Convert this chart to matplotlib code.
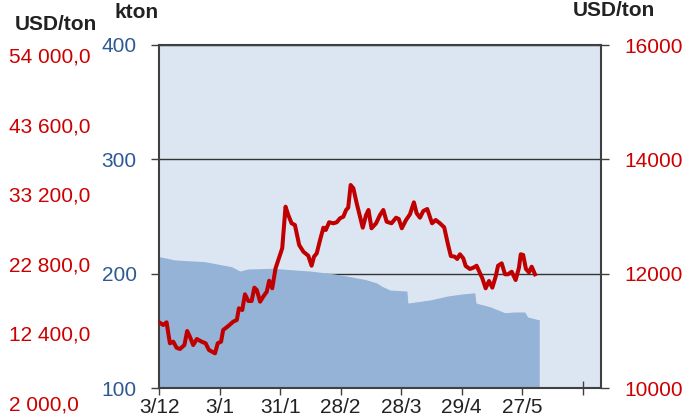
import matplotlib
matplotlib.use('Agg')
import matplotlib.pyplot as plt
import numpy as np

plt.rcParams['font.family'] = ['Liberation Sans', 'DejaVu Sans']
plt.rcParams['font.size'] = 15

# Stock (kton), area, x = trading-day index
stock_x = [0, 5.3, 15.1, 24.0, 26.7, 29.4, 37.5, 45.0, 49.9, 58.1, 63.1, 68.0,
           72.0, 73.6, 76.3, 81.9, 82.2, 89.5, 95.4, 100.0, 104.3, 104.7, 109.3,
           114.2, 117.5, 120.8, 121.8, 125.1, 125.6]
stock_kton = [214.9, 212.0, 210.5, 206.1, 202.3, 204.1, 204.7, 203.2, 202.3, 199.7,
              197.4, 195.0, 191.8, 189.0, 185.7, 184.8, 174.3, 177.0, 180.5, 182.2,
              183.3, 174.3, 171.1, 165.9, 166.5, 166.5, 162.1, 159.9, 159.9]

# Price (USD/ton), line
price_x = [0, 1.4, 2.5, 3.6, 4.7, 5.8, 6.9, 8.4, 9.3, 10.2, 11.3, 12.5, 14.1, 15.4,
           16.5, 18.5, 19.4, 20.5, 21.2, 22.9, 24.5, 25.7, 26.4, 27.5, 28.4, 29.5,
           30.6, 31.5, 32.3, 33.4, 34.4, 35.6, 36.4, 37.4, 38.5, 39.6, 40.7, 41.8,
           42.7, 43.8, 44.9, 46.3, 47.7, 49.3, 50.4, 51.2, 52.1, 53.2, 54.3, 55.1,
           56.2, 57.6, 58.7, 59.8, 60.9, 61.8, 62.5, 63.3, 64.2, 65.3, 66.4, 67.3,
           68.4, 69.2, 70.2, 71.7, 73.0, 74.1, 75.2, 76.8, 78.3, 79.2, 80.2, 81.6,
           82.9, 84.2, 85.1, 86.2, 87.3, 88.6, 90.2, 91.4, 92.8, 94.2, 95.5, 96.4,
           97.7, 98.5, 99.4, 100.5, 101.3, 102.7, 103.8, 104.9, 105.7, 106.8, 107.9,
           109.0, 110.1, 111.2, 112.0, 113.2, 114.3, 115.3, 116.5, 117.8, 118.9,
           119.5, 120.3, 121.2, 122.2, 123.1, 124.2]
price_usd = [11150, 11102, 11149, 10782, 10810, 10705, 10682, 10752, 10997, 10897,
             10752, 10857, 10810, 10782, 10665, 10607, 10782, 10810, 11015, 11085,
             11160, 11190, 11394, 11364, 11639, 11522, 11522, 11755, 11714, 11510,
             11597, 11685, 11877, 11744, 12094, 12269, 12444, 13172, 13026, 12881,
             12851, 12501, 12384, 12314, 12139, 12297, 12356, 12589, 12804, 12764,
             12899, 12881, 12899, 12969, 12997, 13114, 13154, 13551, 13493, 13231,
             12997, 12804, 13026, 13114, 12794, 12881, 13026, 13114, 12909, 12881,
             12979, 12956, 12794, 12939, 13039, 13248, 13056, 12979, 13096, 13131,
             12881, 12939, 12881, 12811, 12501, 12309, 12297, 12257, 12339, 12269,
             12134, 12082, 12104, 12139, 12047, 11919, 11744, 11872, 11755, 11947,
             12139, 12181, 11989, 11989, 12034, 11889, 12104, 12339, 12327, 12082,
             12024, 12122, 11989]

tick_pos = [0, 20, 40, 60, 80, 100, 120, 140]
tick_labels = ['3/12', '3/1', '31/1', '28/2', '28/3', '29/4', '27/5', '']
kton_ticks = [100, 200, 300, 400]
usd_ticks = [10000, 12000, 14000, 16000]
outer_ticks = [2000, 12400, 22800, 33200, 43600, 54000]

BG = '#dce6f2'
AREA = '#95b3d7'
RED = '#c00000'
BLUE = '#2e5a94'
SPINE = '#404040'

fig = plt.figure(figsize=(6.95, 4.19), dpi=100)
ax1 = fig.add_axes([159/695, 1 - 388/419, 442/695, 343/419])
ax1.set_facecolor(BG)
ax1.fill_between(stock_x, 100, stock_kton, color=AREA, lw=0, zorder=2)
ax1.set_xlim(0, 146)
ax1.set_ylim(100, 400)
ax1.set_yticks(kton_ticks)
ax1.set_xticks(tick_pos)
ax1.set_xticklabels(tick_labels, color='#222222')
ax1.tick_params(axis='y', colors=SPINE, labelcolor=BLUE, length=6, width=1, pad=10)
ax1.tick_params(axis='x', colors=SPINE, labelcolor='#222222', direction='inout',
                length=10, width=1, pad=2)
ax1.grid(axis='y', color='#333333', lw=1, zorder=1)
ax1.set_axisbelow(True)
for s in ax1.spines.values():
    s.set_color(SPINE)
    s.set_linewidth(1.5)

ax2 = ax1.twinx()
ax2.plot(price_x, price_usd, color=RED, lw=2.9, solid_joinstyle='round', zorder=3)
ax2.set_ylim(10000, 16000)
ax2.set_yticks(usd_ticks)
ax2.tick_params(axis='y', colors=SPINE, labelcolor='#cc0000', length=6, width=1, pad=11)
for s in ax2.spines.values():
    s.set_visible(False)

# outer left scale
ax3 = fig.add_axes([8/695, 1 - 403/419, 0.001, 348/419])
ax3.set_ylim(2000, 54000)
ax3.set_yticks(outer_ticks)
ax3.set_yticklabels([f'{v:,.1f}'.replace(',', ' ').replace('.', ',') for v in outer_ticks])
ax3.yaxis.tick_right()
ax3.tick_params(axis='y', length=0, pad=0, labelcolor='#cc0000')
ax3.xaxis.set_visible(False)
ax3.patch.set_visible(False)
for s in ax3.spines.values():
    s.set_visible(False)

fig.text(15/695, 1 - 24/419, 'USD/ton', fontweight='bold', color='#222222', va='center', ha='left')
fig.text(114/695, 1 - 12/419, 'kton', fontweight='bold', color='#222222', va='center', ha='left')
fig.text(573/695, 1 - 10/419, 'USD/ton', fontweight='bold', color='#222222', va='center', ha='left')

fig.savefig('out.png', dpi=100)
